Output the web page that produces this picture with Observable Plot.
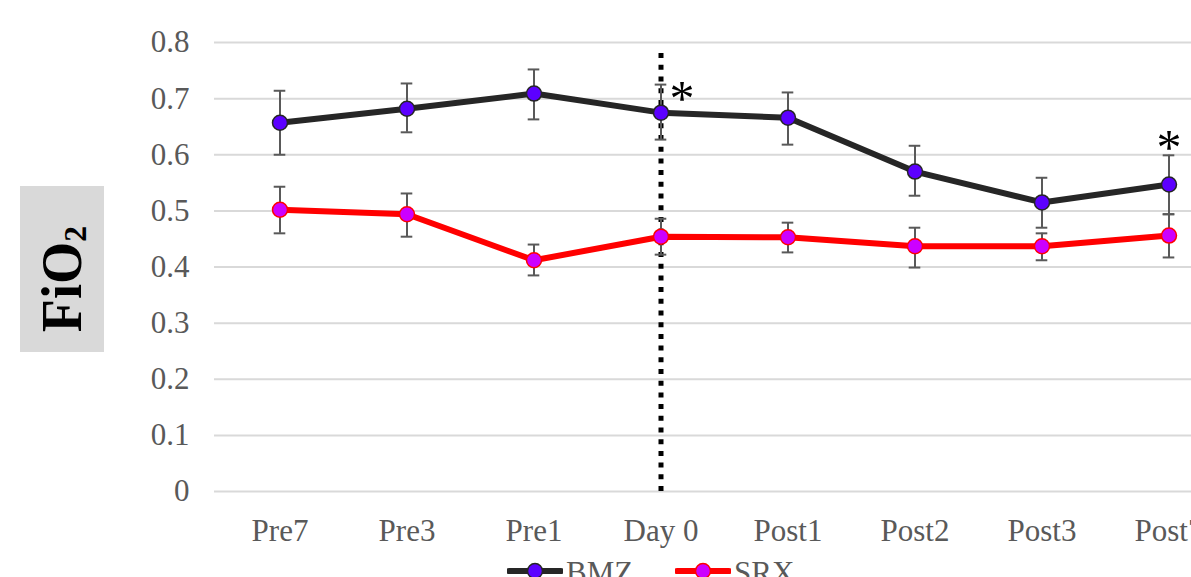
<!DOCTYPE html>
<html>
<head>
<meta charset="utf-8">
<script src="https://cdn.jsdelivr.net/npm/d3@7"></script>
<script src="https://cdn.jsdelivr.net/npm/@observablehq/plot@0.6"></script>
<style>
  html, body { margin: 0; padding: 0; overflow: hidden; background: #fff; width: 1191px; height: 577px; }
  #chart { position: absolute; left: 0; top: 0; }
  #ytitle { position: absolute; left: 20px; top: 186px; width: 84px; height: 166px; background: #d9d9d9;
            display: flex; align-items: center; justify-content: center; }
  #ytitle span { display: inline-block; font-family: "Liberation Serif", serif; font-weight: bold; font-size: 56px;
                 color: #000; white-space: nowrap; transform: translate(1px, 10px) rotate(-90deg) scaleX(0.97); line-height: 1; }
  #ytitle sub { font-size: 0.58em; vertical-align: -0.18em; }
  .lg { position: absolute; font-family: "Liberation Serif", serif; font-size: 31px; color: #595959; line-height: 31px; }
</style>
</head>
<body>
<div id="chart"></div>
<div id="ytitle"><span>FiO<sub>2</sub></span></div>
<div id="legend"></div>
<script>
const days = ["Pre7", "Pre3", "Pre1", "Day 0", "Post1", "Post2", "Post3", "Post7"];
const bmzMean = [0.657, 0.682, 0.709, 0.675, 0.666, 0.570, 0.515, 0.547];
const bmzLow  = [0.600, 0.640, 0.663, 0.627, 0.618, 0.527, 0.470, 0.494];
const bmzHigh = [0.714, 0.727, 0.752, 0.725, 0.711, 0.616, 0.559, 0.599];
const srxMean = [0.502, 0.494, 0.412, 0.454, 0.453, 0.437, 0.437, 0.456];
const srxLow  = [0.460, 0.454, 0.385, 0.422, 0.426, 0.399, 0.412, 0.417];
const srxHigh = [0.543, 0.531, 0.440, 0.486, 0.479, 0.470, 0.460, 0.494];
const yTicks = [0, 0.1, 0.2, 0.3, 0.4, 0.5, 0.6, 0.7, 0.8];
const seriesNames = ["BMZ", "SRX"];
const dividerDay = "Day 0";
const dividerTop = 0.782;
const sigBMZ = ["Day 0", "Post7"];

const colors = {
  BMZ: {line: "#262626", fill: "#5c00ff", stroke: "#262626"},
  SRX: {line: "#ff0000", fill: "#cc00ff", stroke: "#ff0000"}
};

const rows = [];
days.forEach((d, i) => {
  rows.push({day: d, series: "BMZ", mean: bmzMean[i], low: bmzLow[i], high: bmzHigh[i]});
  rows.push({day: d, series: "SRX", mean: srxMean[i], low: srxLow[i], high: srxHigh[i]});
});
const bmz = rows.filter(r => r.series === "BMZ");
const srx = rows.filter(r => r.series === "SRX");
const sig = bmz.filter(r => sigBMZ.includes(r.day));

const capInset = 57.7;
const errStyle = {stroke: "#595959", strokeWidth: 2};

const svg = Plot.plot({
  width: 1191,
  height: 550,
  marginLeft: 214,
  marginRight: 0,
  marginTop: 42,
  marginBottom: 59,
  style: {fontFamily: "Liberation Serif, serif", fontSize: "31px", color: "#595959", background: "transparent", overflow: "hidden"},
  x: {type: "band", domain: days, range: [214.5, 1233.5], padding: 0, label: null},
  y: {domain: [0, 0.8], label: null},
  marks: [
    Plot.gridY(yTicks, {stroke: "#d9d9d9", strokeOpacity: 1, strokeWidth: 2}),
    Plot.axisY(yTicks, {tickSize: 0, tickPadding: 25, fontSize: 31, fill: "#595959",
      tickFormat: d => d === 0 ? "0" : d.toFixed(1)}),
    Plot.axisX({tickSize: 0, tickPadding: 27, fontSize: 31, fill: "#595959"}),
    Plot.ruleX([dividerDay], {x: d => d, y1: 0, y2: dividerTop, stroke: "#000", strokeWidth: 5,
      strokeDasharray: "5,6.7", strokeLinecap: "butt"}),
    Plot.ruleX(rows, {x: "day", y1: "low", y2: "high", ...errStyle}),
    Plot.tickY(rows, {x: "day", y: "low", insetLeft: capInset, insetRight: capInset, ...errStyle}),
    Plot.tickY(rows, {x: "day", y: "high", insetLeft: capInset, insetRight: capInset, ...errStyle}),
    Plot.line(bmz, {x: "day", y: "mean", stroke: colors.BMZ.line, strokeWidth: 6, curve: "linear"}),
    Plot.line(srx, {x: "day", y: "mean", stroke: colors.SRX.line, strokeWidth: 6, curve: "linear"}),
    Plot.dot(bmz, {x: "day", y: "mean", r: 7.5, fill: colors.BMZ.fill, stroke: colors.BMZ.stroke, strokeWidth: 1.5}),
    Plot.dot(srx, {x: "day", y: "mean", r: 7.5, fill: colors.SRX.fill, stroke: colors.SRX.stroke, strokeWidth: 1.5}),
    Plot.text(sig.filter(r => r.day === "Day 0"), {x: "day", y: "high", text: () => "*", dx: 21, dy: 14,
      fontSize: 50, fill: "#000", fontFamily: "Liberation Serif, serif"}),
    Plot.text(sig.filter(r => r.day === "Post7"), {x: "day", y: "high", text: () => "*", dx: 0, dy: -7,
      fontSize: 50, fill: "#000", fontFamily: "Liberation Serif, serif"})
  ]
});
svg.style.overflow = "hidden";
document.getElementById("chart").appendChild(svg);

// legend
const legend = document.getElementById("legend");
const legendPos = {BMZ: 507, SRX: 675};
seriesNames.forEach(name => {
  const x0 = legendPos[name];
  const sw = document.createElementNS("http://www.w3.org/2000/svg", "svg");
  sw.setAttribute("width", 56); sw.setAttribute("height", 20);
  sw.style.position = "absolute"; sw.style.left = x0 + "px"; sw.style.top = "561px";
  const ln = document.createElementNS("http://www.w3.org/2000/svg", "line");
  ln.setAttribute("x1", 2); ln.setAttribute("x2", 54); ln.setAttribute("y1", 10); ln.setAttribute("y2", 10);
  ln.setAttribute("stroke", colors[name].line); ln.setAttribute("stroke-width", 6); ln.setAttribute("stroke-linecap", "round");
  const c = document.createElementNS("http://www.w3.org/2000/svg", "circle");
  c.setAttribute("cx", 28); c.setAttribute("cy", 10); c.setAttribute("r", 7.5);
  c.setAttribute("fill", colors[name].fill); c.setAttribute("stroke", colors[name].stroke); c.setAttribute("stroke-width", 1.5);
  sw.appendChild(ln); sw.appendChild(c);
  legend.appendChild(sw);
  const t = document.createElement("div");
  t.className = "lg"; t.textContent = name;
  t.style.left = (x0 + 59) + "px"; t.style.top = "557px";
  legend.appendChild(t);
});
</script>
</body>
</html>
